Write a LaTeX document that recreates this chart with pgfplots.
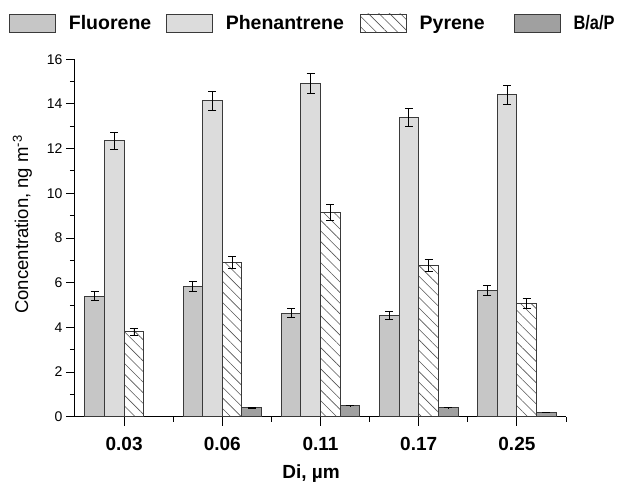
\documentclass[border=0pt]{standalone}
\usepackage{fontspec}
\setmainfont{Liberation Sans}
\usepackage{pgfplots}
\usepackage{pgfplotstable}
\pgfplotsset{compat=1.18}
\usetikzlibrary{patterns.meta}

\definecolor{fluo}{HTML}{C6C6C6}
\definecolor{phen}{HTML}{DCDCDC}
\definecolor{bap}{HTML}{A0A0A0}
\definecolor{edge}{HTML}{3A3A3A}
\definecolor{hatch}{HTML}{555555}

% x: 0.03 0.06 0.11 0.17 0.25
\pgfplotstableread{
x fl   fle  ph    phe  py   pye  bp   bpe
0 5.40 0.20 12.36 0.38 3.80 0.16 nan  nan
1 5.82 0.22 14.15 0.42 6.90 0.28 0.40 0.01
2 4.63 0.20 14.93 0.45 9.13 0.36 0.50 0.01
3 4.52 0.18 13.40 0.40 6.76 0.27 0.41 0.01
4 5.65 0.22 14.42 0.42 5.07 0.21 0.20 0.01
}\data

\pgfplotsset{barleg/.style={/pgfplots/legend image code/.code={\draw[##1] (0pt,-9pt) rectangle (46pt,9pt);}}}

\begin{document}
\begin{tikzpicture}
\useasboundingbox (0,0) rectangle (622pt,483pt);
\begin{axis}[
  at={(75pt,66.3pt)}, anchor=south west,
  scale only axis, width=491pt, height=357.4pt,
  xmin=-0.5, xmax=4.5, ymin=0, ymax=16,
  axis x line*=bottom, axis y line*=left,
  axis line style={line width=1pt, black},
  xtick={0,...,4}, xticklabels={0.03,0.06,0.11,0.17,0.25},
  minor xtick={0.5,1.5,2.5,3.5,4.5},
  ytick={0,2,...,16}, minor ytick={1,3,...,15},
  tick align=outside, major tick length=9pt, minor tick length=5pt,
  every tick/.style={line width=1pt, black},
  /pgf/number format/assume math mode=true,
  xticklabel style={font=\fontsize{19}{19}\selectfont\bfseries, yshift=-8pt},
  yticklabel style={font=\fontsize{14}{14}\selectfont},
  xlabel={\textbf{Di, µm}},
  ylabel={Concentration, ng m\textsuperscript{-3}},
  xlabel style={font=\fontsize{19}{19}\selectfont, at={(axis description cs:0.4807,-0.1595)}, anchor=center},
  ylabel style={font=\fontsize{18.5}{19}\selectfont, at={(axis description cs:-0.107,0.538)}, anchor=center},
  legend columns=4,
  legend style={draw=none, fill=none, inner sep=0pt, outer sep=0pt,
    at={(axis description cs:-0.1344,1.1016)}, anchor=west,
    font=\fontsize{19.5}{20}\selectfont\bfseries,
    nodes={inner sep=0pt},
    /tikz/every odd column/.append style={column sep=13pt},
    /tikz/every even column/.append style={column sep=0pt}},
  error bars/error bar style={line width=0.8pt, black},
  error bars/error mark options={rotate=90, mark size=4pt, line width=0.8pt, black},
]
\addplot[ybar, bar width=0.2, bar shift=0pt, fill=fluo, draw=edge, line width=0.9pt, barleg,
  error bars/.cd, y dir=both, y explicit]
  table[x expr=\thisrow{x}-0.3, y=fl, y error=fle] {\data};
\addlegendentry{\makebox[97pt][l]{\strut Fluorene}}
\addplot[ybar, bar width=0.2, bar shift=0pt, fill=phen, draw=edge, line width=0.9pt, barleg,
  error bars/.cd, y dir=both, y explicit]
  table[x expr=\thisrow{x}-0.1, y=ph, y error=phe] {\data};
\addlegendentry{\makebox[134pt][l]{\strut Phenantrene}}
\addplot[ybar, bar width=0.2, bar shift=0pt, draw=edge, line width=0.9pt,
  pattern={Lines[angle=-45, distance=7.5pt, line width=0.6pt]}, pattern color=hatch, barleg,
  error bars/.cd, y dir=both, y explicit]
  table[x expr=\thisrow{x}+0.1, y=py, y error=pye] {\data};
\addlegendentry{\makebox[94pt][l]{\strut Pyrene}}
\addplot[ybar, bar width=0.2, bar shift=0pt, fill=bap, draw=edge, line width=0.9pt, barleg,
  error bars/.cd, y dir=both, y explicit]
  table[x expr=\thisrow{x}+0.3, y=bp, y error=bpe] {\data};
\addlegendentry{\strut\scalebox{0.84}[1]{B/a/P}}
\end{axis}
\end{tikzpicture}
\end{document}
